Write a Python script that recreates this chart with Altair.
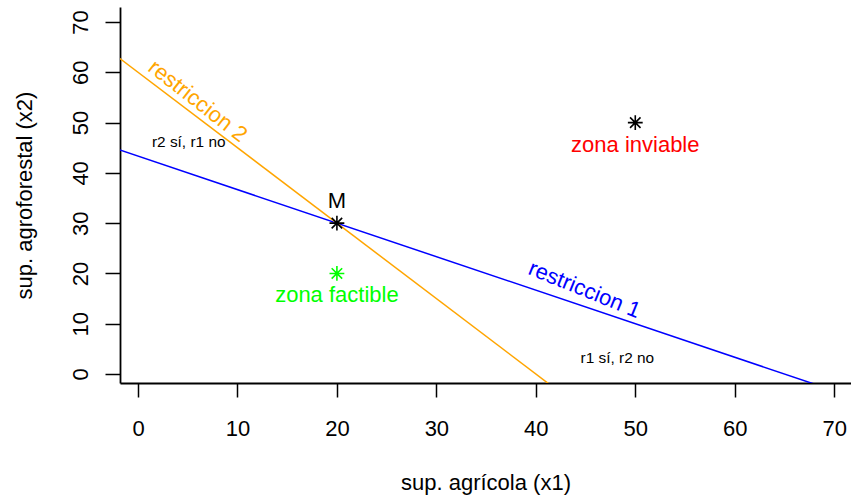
import altair as alt
import pandas as pd

# ---- data ----
# constraint lines (two points on each line; clipped to the plot region)
r1_x = [-10, 80]
r1_y = [50, -10]      # 2*x1 + 3*x2 = 130
r2_x = [-10, 50]
r2_y = [75, -15]      # 3*x1 + 2*x2 = 120

pt_x = [20, 50, 20]
pt_y = [30, 50, 20]
pt_color = ["black", "black", "#00ff00"]

big_labels = ["M", "zona inviable", "zona factible"]
big_x = [20, 50, 20]
big_y = [33, 44.2, 14.3]
big_color = ["black", "#ff0000", "#00ff00"]

small_labels = ["r2 sí, r1 no", "r1 sí, r2 no"]
small_x = [5.1, 48.2]
small_y = [45.2, 2.1]

rot_labels = ["restriccion 2", "restriccion 1"]
rot_x = [6.0, 44.9]
rot_y = [54.3, 16.8]
rot_angle = [38, 22]
rot_color = ["orange", "#0000ff"]

x_ticks = [0, 10, 20, 30, 40, 50, 60, 70]
y_ticks = [0, 10, 20, 30, 40, 50, 60, 70]
x_dom = [-1.81, 71.69]
y_dom = [-1.79, 72.99]

FONT = "Liberation Sans"
ASTER = "M-1,0L1,0M0,-1L0,1M-0.7071,-0.7071L0.7071,0.7071M-0.7071,0.7071L0.7071,-0.7071"

xs = alt.Scale(domain=x_dom, nice=False, zero=False)
ys = alt.Scale(domain=y_dom, nice=False, zero=False)

x_axis = alt.Axis(values=x_ticks, title="sup. agrícola (x1)", grid=False,
                  tickSize=14, tickWidth=1.5, tickColor="black",
                  domainColor="black", domainWidth=1.8,
                  labelFontSize=22, labelFont=FONT, labelColor="black",
                  labelBaseline="alphabetic", labelPadding=38,
                  labelFlush=False, labelOverlap=False, labelBound=False,
                  titleFontSize=22, titleFont=FONT, titleFontWeight="normal",
                  titleColor="black", titleBaseline="alphabetic", titleY=106)
y_axis = alt.Axis(values=y_ticks, title="sup. agroforestal (x2)", grid=False,
                  tickSize=15, tickWidth=1.5, tickColor="black",
                  domainColor="black", domainWidth=1.8,
                  labelFontSize=22, labelFont=FONT, labelColor="black",
                  labelAngle=270, labelAlign="center", labelBaseline="alphabetic",
                  labelPadding=18,
                  labelFlush=False, labelOverlap=False, labelBound=False,
                  titleFontSize=22, titleFont=FONT, titleFontWeight="normal",
                  titleColor="black", titleAngle=270, titleAlign="center",
                  titleBaseline="alphabetic", titleX=-88.5, titleY=188)

df_r1 = pd.DataFrame({"x": r1_x, "y": r1_y})
df_r2 = pd.DataFrame({"x": r2_x, "y": r2_y})

line1 = alt.Chart(df_r1).mark_line(color="#0000ff", strokeWidth=1.5, clip=True).encode(
    x=alt.X("x:Q", scale=xs, axis=x_axis),
    y=alt.Y("y:Q", scale=ys, axis=y_axis),
)
line2 = alt.Chart(df_r2).mark_line(color="orange", strokeWidth=1.5, clip=True).encode(
    x=alt.X("x:Q", scale=xs),
    y=alt.Y("y:Q", scale=ys),
)

df_pts = pd.DataFrame({"x": pt_x, "y": pt_y, "c": pt_color})
pts = alt.Chart(df_pts).mark_point(shape=ASTER, filled=False, size=220, strokeWidth=1.6, opacity=1).encode(
    x=alt.X("x:Q", scale=xs),
    y=alt.Y("y:Q", scale=ys),
    stroke=alt.Stroke("c:N", scale=None),
)

df_big = pd.DataFrame({"x": big_x, "y": big_y, "t": big_labels, "c": big_color})
big = alt.Chart(df_big).mark_text(font=FONT, fontSize=22, align="center", baseline="alphabetic").encode(
    x=alt.X("x:Q", scale=xs),
    y=alt.Y("y:Q", scale=ys),
    text="t:N",
    color=alt.Color("c:N", scale=None),
)

df_small = pd.DataFrame({"x": small_x, "y": small_y, "t": small_labels})
small = alt.Chart(df_small).mark_text(font=FONT, fontSize=15.4, align="center", baseline="alphabetic", color="black").encode(
    x=alt.X("x:Q", scale=xs),
    y=alt.Y("y:Q", scale=ys),
    text="t:N",
)

df_rot = pd.DataFrame({"x": rot_x, "y": rot_y, "t": rot_labels, "a": rot_angle, "c": rot_color})
rot = alt.Chart(df_rot).mark_text(font=FONT, fontSize=22, align="center", baseline="middle").encode(
    x=alt.X("x:Q", scale=xs),
    y=alt.Y("y:Q", scale=ys),
    text="t:N",
    angle=alt.Angle("a:Q", scale=None),
    color=alt.Color("c:N", scale=None),
)

chart = alt.layer(line1, line2, pts, big, small, rot).properties(
    width=731, height=376,
    autosize=alt.AutoSizeParams(type="none"),
    padding={"left": 120, "top": 7, "right": 0, "bottom": 115},
    background="white",
).configure_view(stroke=None)

chart.save("out.html", embed_options={"renderer": "svg", "actions": False})
